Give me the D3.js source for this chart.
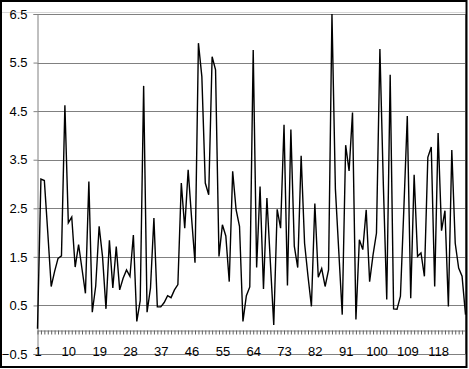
<!DOCTYPE html>
<html>
<head>
<meta charset="utf-8">
<script src="https://cdn.jsdelivr.net/npm/d3@7"></script>
<style>
    body { margin: 0; background: white; }
    svg { display: block; }
</style>
</head>
<body>
<svg id="chart" width="469" height="369"></svg>
<script>
// values, one per category (1..126)
let values = [
    0.02, 3.1, 3.07, 2.0, 0.89, 1.2, 1.47, 1.52, 4.62, 2.2,
    2.32, 1.29, 1.75, 1.25, 0.75, 3.05, 0.36, 0.9, 2.13, 1.5,
    0.43, 1.84, 0.86, 1.71, 0.82, 1.06, 1.23, 1.1, 1.95, 0.17,
    0.6, 5.02, 0.36, 0.86, 2.3, 0.47, 0.47, 0.56, 0.7, 0.66,
    0.82, 0.93, 3.02, 2.09, 3.29, 2.3, 1.38, 5.9, 5.21, 3.02,
    2.78, 5.62, 5.35, 1.51, 2.16, 1.93, 0.99, 3.26, 2.47, 2.13,
    0.17, 0.7, 0.88, 5.76, 1.28, 2.95, 0.84, 2.71, 1.4, 0.1,
    2.48, 2.09, 4.22, 0.91, 4.12, 1.72, 1.28, 3.58, 1.78, 1.1,
    0.48, 2.6, 1.08, 1.26, 0.89, 1.23, 6.5, 2.9, 1.6, 0.31,
    3.8, 3.27, 4.47, 0.21, 1.85, 1.65, 2.47, 0.99, 1.54, 1.99,
    5.78, 3.0, 0.62, 5.25, 0.43, 0.42, 0.69, 2.5, 4.4, 0.65,
    3.19, 1.51, 1.58, 1.1, 3.55, 3.76, 0.89, 4.05, 2.04, 2.45,
    0.48, 3.7, 1.78, 1.27, 1.1, 0.31
];
let categories = values.map((v, i) => i + 1);
let xLabels = [1, 10, 19, 28, 37, 46, 55, 64, 73, 82, 91, 100, 109, 118];
let yTicks = [-0.5, 0.5, 1.5, 2.5, 3.5, 4.5, 5.5, 6.5];

const PLOT_LEFT = 37.5;
const PLOT_RIGHT = 465.5;
const PLOT_TOP = 14;
const PLOT_BOTTOM = 354;
const FONT = 'Liberation Sans, Arial, sans-serif';

let svg = d3.select('#chart');

let x = d3.scalePoint()
    .domain(categories)
    .range([PLOT_LEFT, PLOT_RIGHT]);

let y = d3.scaleLinear()
    .domain([-0.5, 6.5])
    .range([PLOT_BOTTOM, PLOT_TOP]);

// gridlines
svg.append('g')
    .selectAll('line')
    .data(yTicks.filter(t => t > -0.5))
    .join('line')
    .attr('x1', PLOT_LEFT)
    .attr('x2', PLOT_RIGHT)
    .attr('y1', d => Math.round(y(d)) + 0.5)
    .attr('y2', d => Math.round(y(d)) + 0.5)
    .attr('stroke', '#808080')
    .attr('stroke-width', 1);

// faint line just above the plot area
svg.append('line')
    .attr('x1', 1)
    .attr('x2', PLOT_RIGHT)
    .attr('y1', 12.5)
    .attr('y2', 12.5)
    .attr('stroke', '#d8d8d8');

// plot area bottom border (runs through the x labels like the original)
svg.append('line')
    .attr('x1', PLOT_LEFT)
    .attr('x2', PLOT_RIGHT)
    .attr('y1', PLOT_BOTTOM + 0.5)
    .attr('y2', PLOT_BOTTOM + 0.5)
    .attr('stroke', '#808080');

// y axis
let yAxis = svg.append('g')
    .attr('transform', `translate(${PLOT_LEFT},0)`)
    .call(d3.axisLeft(y).tickValues(yTicks).tickFormat(d3.format('.1f')).tickSize(4).tickPadding(6));
yAxis.select('.domain').attr('stroke', '#808080');
yAxis.selectAll('.tick line').attr('stroke', '#808080');
yAxis.selectAll('text')
    .attr('fill', '#000')
    .style('font-family', FONT)
    .style('font-size', '13px');

// x axis at value 0, a tick for every category
let xAxisY = Math.round(y(0)) + 0.5;
let xAxis = svg.append('g')
    .attr('transform', `translate(0,${xAxisY})`)
    .call(d3.axisBottom(x).tickValues(categories).tickFormat('').tickSize(4).tickSizeOuter(0));
xAxis.select('.domain').attr('stroke', '#808080');
xAxis.selectAll('.tick line').attr('stroke', '#606060');

let xLabelAxis = svg.append('g')
    .attr('transform', `translate(0,${xAxisY})`)
    .call(d3.axisBottom(x).tickValues(xLabels).tickSize(0).tickPadding(16));
xLabelAxis.select('.domain').remove();
xLabelAxis.selectAll('text')
    .attr('fill', '#000')
    .style('font-family', FONT)
    .style('font-size', '13px');

// plot area right border
svg.append('line')
    .attr('x1', PLOT_RIGHT)
    .attr('x2', PLOT_RIGHT)
    .attr('y1', PLOT_TOP)
    .attr('y2', PLOT_BOTTOM)
    .attr('stroke', '#808080');

// the series
let line = d3.line()
    .x((d, i) => x(categories[i]))
    .y(d => y(d));

svg.append('path')
    .datum(values)
    .attr('fill', 'none')
    .attr('stroke', '#000')
    .attr('stroke-width', 1.4)
    .attr('stroke-linejoin', 'miter')
    .attr('d', line);

// outer chart frame
svg.append('rect')
    .attr('x', 1)
    .attr('y', 1)
    .attr('width', 465.5)
    .attr('height', 366)
    .attr('fill', 'none')
    .attr('stroke', '#000')
    .attr('stroke-width', 2);
</script>
</body>
</html>
